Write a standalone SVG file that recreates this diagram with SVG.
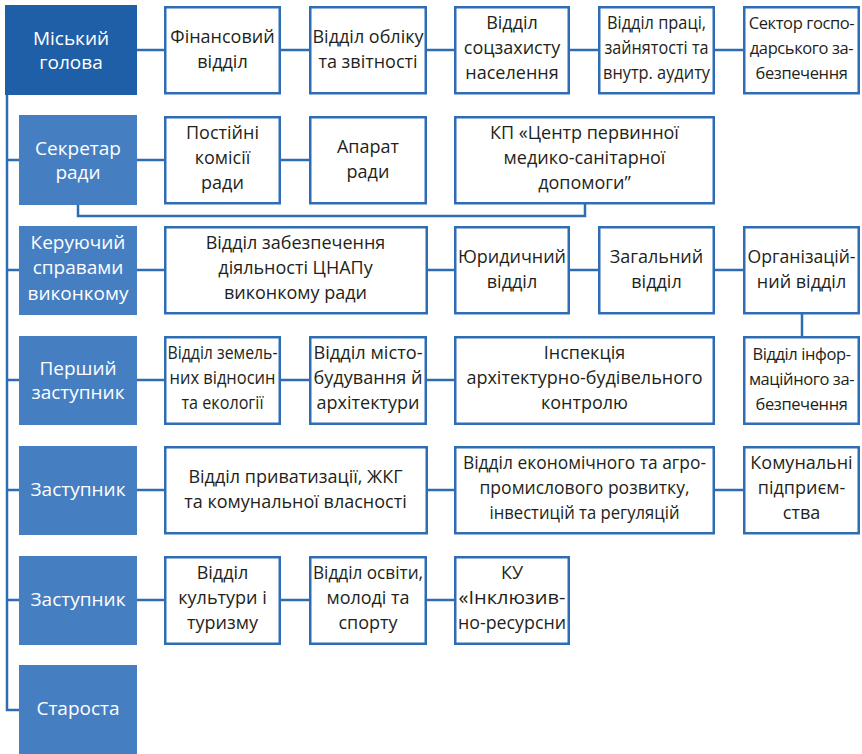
<svg xmlns="http://www.w3.org/2000/svg" width="862" height="754" viewBox="0 0 862 754">
<style>
.head{fill:#1f5fa7}
.lead{fill:#467ec2}
.box{fill:#fff;stroke:#2e6db4;stroke-width:2.5}
.t{font-family:"Open Sans","Noto Sans","DejaVu Sans",sans-serif;font-size:18px;fill:#231f20;text-anchor:middle}
.w{fill:#fff;font-size:19px}
.n{font-size:16.5px;letter-spacing:-0.4px}
.conn{fill:none;stroke:#2e6db4;stroke-width:2.5}
</style>
<rect width="862" height="754" fill="#fff"/>
<g id="connectors" class="conn">
<path d="M7,95V710H19M7,160H19M7,270H19M7,380H19M7,490H19M7,600H19"/>
<path d="M137,50H743M137,160H309M137,270H743M137,380H454M137,490H743M137,600H454"/>
<path d="M78,205V216H585V204"/>
<path d="M802,314V336"/>
</g>
<g id="mayor"><rect class="head" x="5" y="5" width="132" height="90"/><text class="t w"><tspan x="71" y="45">Міський</tspan><tspan x="71" y="69">голова</tspan></text></g>
<g id="fin"><rect class="box" x="165.25" y="7.25" width="114.5" height="86"/><text class="t"><tspan x="222.5" y="43">Фінансовий</tspan><tspan x="222.5" y="68">відділ</tspan></text></g>
<g id="oblik"><rect class="box" x="310.25" y="7.25" width="115.5" height="86"/><text class="t"><tspan x="368" y="43" textLength="111" lengthAdjust="spacingAndGlyphs">Відділ обліку</tspan><tspan x="368" y="68">та звітності</tspan></text></g>
<g id="soc"><rect class="box" x="455.25" y="7.25" width="113.5" height="86"/><text class="t"><tspan x="512" y="29">Відділ</tspan><tspan x="512" y="54">соцзахисту</tspan><tspan x="512" y="79">населення</tspan></text></g>
<g id="pratsi"><rect class="box" x="599.25" y="7.25" width="114.5" height="86"/><text class="t"><tspan x="656.5" y="29" textLength="99" lengthAdjust="spacingAndGlyphs">Відділ праці,</tspan><tspan x="656.5" y="54" textLength="104" lengthAdjust="spacingAndGlyphs">зайнятості та</tspan><tspan x="656.5" y="79" textLength="107" lengthAdjust="spacingAndGlyphs">внутр. аудиту</tspan></text></g>
<g id="hosp"><rect class="box" x="744.25" y="7.25" width="114.5" height="86"/><text class="t n"><tspan x="801.5" y="29">Сектор госпо-</tspan><tspan x="801.5" y="54">дарського за-</tspan><tspan x="801.5" y="79">безпечення</tspan></text></g>

<g id="secretar"><rect class="lead" x="19" y="115" width="118" height="90"/><text class="t w"><tspan x="78" y="155">Секретар</tspan><tspan x="78" y="179">ради</tspan></text></g>
<g id="komisii"><rect class="box" x="165.25" y="117.25" width="114.5" height="86"/><text class="t"><tspan x="222.5" y="139">Постійні</tspan><tspan x="222.5" y="164">комісії</tspan><tspan x="222.5" y="189">ради</tspan></text></g>
<g id="aparat"><rect class="box" x="310.25" y="117.25" width="115.5" height="86"/><text class="t"><tspan x="368" y="153">Апарат</tspan><tspan x="368" y="178">ради</tspan></text></g>
<g id="kp"><rect class="box" x="455.25" y="117.25" width="258.5" height="86"/><text class="t"><tspan x="584.5" y="139">КП «Центр первинної</tspan><tspan x="584.5" y="164">медико-санітарної</tspan><tspan x="584.5" y="189">допомоги”</tspan></text></g>

<g id="keruyuchyi"><rect class="lead" x="19" y="226" width="118" height="89"/><text class="t w"><tspan x="78" y="249">Керуючий</tspan><tspan x="78" y="274">справами</tspan><tspan x="78" y="300">виконкому</tspan></text></g>
<g id="tsnap"><rect class="box" x="165.25" y="227.25" width="261.5" height="86"/><text class="t"><tspan x="295.5" y="249">Відділ забезпечення</tspan><tspan x="295.5" y="274">діяльності ЦНАПу</tspan><tspan x="295.5" y="299">виконкому ради</tspan></text></g>
<g id="yur"><rect class="box" x="455.25" y="227.25" width="113.5" height="86"/><text class="t"><tspan x="512" y="263" textLength="108" lengthAdjust="spacingAndGlyphs">Юридичний</tspan><tspan x="512" y="288">відділ</tspan></text></g>
<g id="zag"><rect class="box" x="599.25" y="227.25" width="114.5" height="86"/><text class="t"><tspan x="656.5" y="263">Загальний</tspan><tspan x="656.5" y="288">відділ</tspan></text></g>
<g id="org"><rect class="box" x="744.25" y="227.25" width="114.5" height="86"/><text class="t"><tspan x="801.5" y="263" textLength="108" lengthAdjust="spacingAndGlyphs">Організацій-</tspan><tspan x="801.5" y="288">ний відділ</tspan></text></g>

<g id="pershyi"><rect class="lead" x="19" y="336" width="118" height="89"/><text class="t w"><tspan x="78" y="375">Перший</tspan><tspan x="78" y="399">заступник</tspan></text></g>
<g id="zemel"><rect class="box" x="165.25" y="337.25" width="114.5" height="86.5"/><text class="t"><tspan x="222.5" y="359" textLength="110" lengthAdjust="spacingAndGlyphs">Відділ земель-</tspan><tspan x="222.5" y="384" textLength="106" lengthAdjust="spacingAndGlyphs">них відносин</tspan><tspan x="222.5" y="409" textLength="82" lengthAdjust="spacingAndGlyphs">та екології</tspan></text></g>
<g id="misto"><rect class="box" x="310.25" y="337.25" width="115.5" height="86.5"/><text class="t"><tspan x="368" y="359" textLength="109" lengthAdjust="spacingAndGlyphs">Відділ місто-</tspan><tspan x="368" y="384" textLength="109" lengthAdjust="spacingAndGlyphs">будування й</tspan><tspan x="368" y="409">архітектури</tspan></text></g>
<g id="insp"><rect class="box" x="455.25" y="337.25" width="258.5" height="86.5"/><text class="t"><tspan x="584.5" y="359">Інспекція</tspan><tspan x="584.5" y="384">архітектурно-будівельного</tspan><tspan x="584.5" y="409">контролю</tspan></text></g>
<g id="inform"><rect class="box" x="744.25" y="337.25" width="114.5" height="86.5"/><text class="t n"><tspan x="801.5" y="360">Відділ інфор-</tspan><tspan x="801.5" y="385">маційного за-</tspan><tspan x="801.5" y="410">безпечення</tspan></text></g>

<g id="zast1"><rect class="lead" x="19" y="446" width="118" height="89"/><text class="t w"><tspan x="78" y="496">Заступник</tspan></text></g>
<g id="pryvat"><rect class="box" x="165.25" y="447.25" width="261.5" height="86"/><text class="t"><tspan x="295.5" y="483">Відділ приватизації, ЖКГ</tspan><tspan x="295.5" y="508">та комунальної власності</tspan></text></g>
<g id="ekon"><rect class="box" x="455.25" y="447.25" width="258.5" height="86"/><text class="t"><tspan x="584.5" y="469" textLength="243" lengthAdjust="spacingAndGlyphs">Відділ економічного та агро-</tspan><tspan x="584.5" y="494" textLength="210" lengthAdjust="spacingAndGlyphs">промислового розвитку,</tspan><tspan x="584.5" y="519" textLength="190" lengthAdjust="spacingAndGlyphs">інвестицій та регуляцій</tspan></text></g>
<g id="komun"><rect class="box" x="744.25" y="447.25" width="114.5" height="86"/><text class="t"><tspan x="801.5" y="469">Комунальні</tspan><tspan x="801.5" y="494">підприєм-</tspan><tspan x="801.5" y="519">ства</tspan></text></g>

<g id="zast2"><rect class="lead" x="19" y="556" width="118" height="89"/><text class="t w"><tspan x="78" y="606">Заступник</tspan></text></g>
<g id="kult"><rect class="box" x="165.25" y="557.25" width="114.5" height="86.5"/><text class="t"><tspan x="222.5" y="579">Відділ</tspan><tspan x="222.5" y="604">культури і</tspan><tspan x="222.5" y="629">туризму</tspan></text></g>
<g id="osvita"><rect class="box" x="310.25" y="557.25" width="115.5" height="86.5"/><text class="t"><tspan x="368" y="579" textLength="110" lengthAdjust="spacingAndGlyphs">Відділ освіти,</tspan><tspan x="368" y="604" textLength="83" lengthAdjust="spacingAndGlyphs">молоді та</tspan><tspan x="368" y="629">спорту</tspan></text></g>
<g id="ku"><rect class="box" x="455.25" y="557.25" width="113.5" height="86.5"/><text class="t"><tspan x="512" y="579">КУ</tspan><tspan x="512" y="604" textLength="107" lengthAdjust="spacingAndGlyphs">«Інклюзив-</tspan><tspan x="512" y="629" textLength="108" lengthAdjust="spacingAndGlyphs">но-ресурсни</tspan></text></g>

<g id="starosta"><rect class="lead" x="19" y="665" width="118" height="89"/><text class="t w"><tspan x="78" y="715">Староста</tspan></text></g>
</svg>
